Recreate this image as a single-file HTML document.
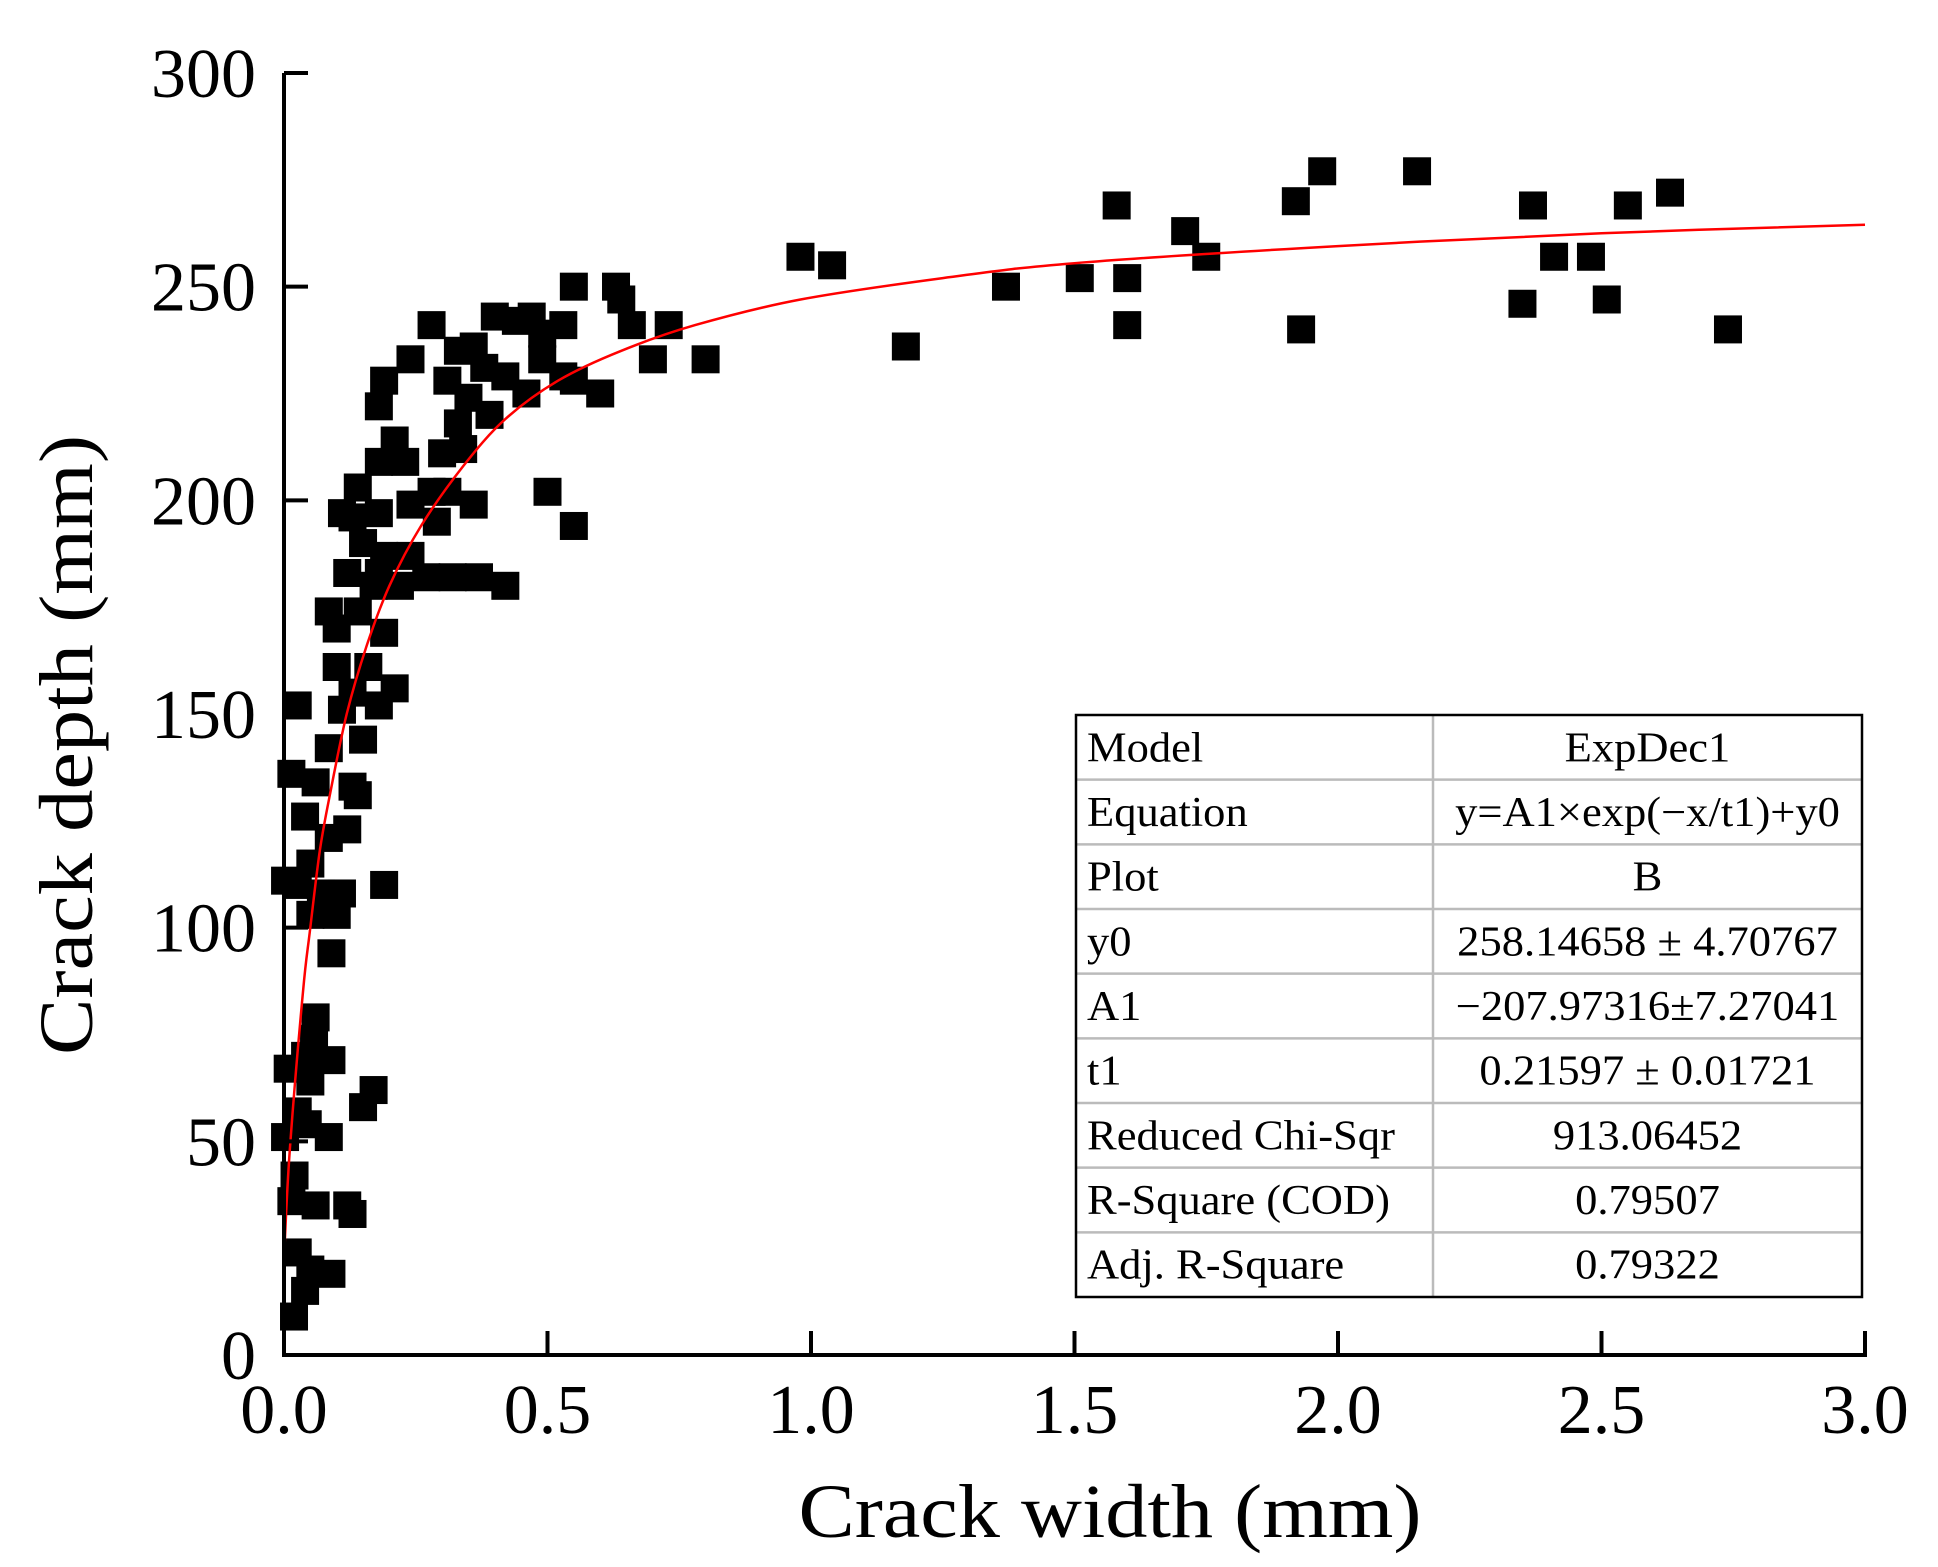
<!DOCTYPE html>
<html><head><meta charset="utf-8"><style>
html,body{margin:0;padding:0;background:#fff;}
svg{display:block;font-family:"Liberation Serif",serif;}
</style></head><body>
<svg id="chart" width="1938" height="1567" viewBox="0 0 1938 1567" xmlns="http://www.w3.org/2000/svg">
<rect width="1938" height="1567" fill="#fff"/>
<g id="marks"></g>
<g id="axes"></g>
<g id="table"></g>
</svg>
<script>
const xTicks=[0,0.5,1.0,1.5,2.0,2.5,3.0];
const xTickLabels=["0.0","0.5","1.0","1.5","2.0","2.5","3.0"];
const yTicks=[0,50,100,150,200,250,300];
const yTickLabels=["0","50","100","150","200","250","300"];
const widthVals=[0.98,1.04,1.18,1.37,1.51,1.58,1.60,1.60,1.71,1.75,1.92,1.93,1.97,2.15,2.35,2.37,2.41,2.48,2.51,2.55,2.63,2.74,
0.55,0.63,0.64,0.66,0.73,0.70,0.80,0.60,0.50,0.55,
0.28,0.24,0.19,0.18,0.31,0.33,0.36,0.40,0.44,0.47,0.53,0.49,0.38,0.42,0.46,0.53,0.49,0.55,0.35,0.33,0.39,0.30,0.34,0.31,0.36,0.28,0.29,0.21,0.18,0.23,0.14,0.11,0.13,0.18,0.24,0.15,0.19,0.24,0.12,0.18,0.22,0.27,0.32,0.37,0.42,0.17,
0.085,0.14,0.10,0.19,0.10,0.16,0.13,0.18,0.21,0.11,0.026,0.15,0.085,0.014,0.06,0.13,0.14,0.04,0.12,0.085,0.002,0.026,0.05,0.07,0.11,0.19,0.05,0.10,0.09,
0.06,0.057,0.007,0.04,0.09,0.05,0.17,0.15,0.026,0.045,0.002,0.085,0.02,0.12,0.06,0.13,0.014,0.026,0.05,0.09,0.04,0.019];
const depthVals=[257,255,236,250,252,269,252,241,263,257,270,240,277,277,246,269,257,257,247,269,272,240,
250,250,247,241,241,233,233,225,202,194,
241,233,228,222,228,235,236,243,242,243,241,239,231,229,225,229,233,228,224,218,220,211,212,202,199,202,195,214,209,209,203,197,196,197,199,190,187,187,183,183,180,182,182,182,180,180,
174,174,170,169,161,161,155,152,156,151,152,144,142,136,134,133,131,126,123,121,111,110,115,108,108,110,103,103,94,
79,74,67,70,69,64,62,58,57,54,51,51,42,35,35,33,36,24,20,19,15,9];
const fitCurveX=[0,0.011,0.036,0.049,0.068,0.087,0.119,0.157,0.2,0.26,0.34,0.42,0.52,0.64,0.78,0.98,1.25,1.5,2.0,2.5,3.0];
const fitCurveY=[22.7,48,85,99,118,131,150,166,180,194,208,219,228,235,241,247,252,255.5,259.5,262.5,264.5];
const tableRows=[["Model","ExpDec1"],["Equation","y=A1×exp(−x/t1)+y0"],["Plot","B"],["y0","258.14658 ± 4.70767"],["A1","−207.97316±7.27041"],["t1","0.21597 ± 0.01721"],["Reduced Chi-Sqr","913.06452"],["R-Square (COD)","0.79507"],["Adj. R-Square","0.79322"]];

const NS="http://www.w3.org/2000/svg";
const X0=284,X1=1865,Y0=1355,Y1=73;
const sx=v=>X0+(v-0)/(3-0)*(X1-X0);
const sy=v=>Y0-(v-0)/(300-0)*(Y0-Y1);
function mk(tag,attrs,parent){const e=document.createElementNS(NS,tag);for(const k in attrs)e.setAttribute(k,attrs[k]);parent.appendChild(e);return e;}
const marks=document.getElementById('marks'),axes=document.getElementById('axes'),table=document.getElementById('table');
const S=28;
widthVals.forEach((w,i)=>{
  const r=mk('rect',{x:sx(w)-S/2,y:sy(depthVals[i])-S/2,width:S,height:S,fill:'#000'},marks);
  
  
});
const P=fitCurveX.map((x,i)=>[sx(x),sy(fitCurveY[i])]);
let d='M'+P[0][0].toFixed(1)+' '+P[0][1].toFixed(1);
for(let i=0;i<P.length-1;i++){
  const p0=P[Math.max(0,i-1)],p1=P[i],p2=P[i+1],p3=P[Math.min(P.length-1,i+2)];
  const c1=[p1[0]+(p2[0]-p0[0])/6,p1[1]+(p2[1]-p0[1])/6];
  const c2=[p2[0]-(p3[0]-p1[0])/6,p2[1]-(p3[1]-p1[1])/6];
  d+='C'+c1[0].toFixed(1)+' '+c1[1].toFixed(1)+' '+c2[0].toFixed(1)+' '+c2[1].toFixed(1)+' '+p2[0].toFixed(1)+' '+p2[1].toFixed(1);
}
const fit=mk('path',{d:d,fill:'none',stroke:'#ff0000','stroke-width':2.5},marks);


const ya=mk('line',{x1:X0,y1:Y1,x2:X0,y2:Y0+2,stroke:'#000','stroke-width':4},axes);


const xa=mk('line',{x1:X0-2,y1:Y0,x2:X1+2,y2:Y0,stroke:'#000','stroke-width':4},axes);


yTicks.forEach((v,i)=>{
  const t=mk('line',{x1:X0,y1:sy(v),x2:X0+24,y2:sy(v),stroke:'#000','stroke-width':4},axes);
  
  
  const l=mk('text',{x:256,y:sy(v)+24,'text-anchor':'end','font-size':70},axes);
  l.textContent=yTickLabels[i];
  
  
});
xTicks.forEach((v,i)=>{
  const t=mk('line',{x1:sx(v),y1:Y0,x2:sx(v),y2:Y0-24,stroke:'#000','stroke-width':4},axes);
  
  
  const l=mk('text',{x:sx(v),y:1433,'text-anchor':'middle','font-size':70},axes);
  l.textContent=xTickLabels[i];
  
  
});
const xt=mk('text',{x:1110,y:1537,'text-anchor':'middle','font-size':76,textLength:623,lengthAdjust:'spacingAndGlyphs'},axes);
xt.textContent='Crack width (mm)';


const yt=mk('text',{x:0,y:0,'text-anchor':'middle','font-size':76,transform:'translate(92,745) rotate(-90)',textLength:620,lengthAdjust:'spacingAndGlyphs'},axes);
yt.textContent='Crack depth (mm)';


const TX0=1076,TX1=1862,TY0=715,TY1=1297,TC=1433,RH=(TY1-TY0)/tableRows.length;
for(let r=1;r<tableRows.length;r++){mk('line',{x1:TX0,y1:TY0+r*RH,x2:TX1,y2:TY0+r*RH,stroke:'#bbb','stroke-width':2.5},table);}
mk('line',{x1:TC,y1:TY0,x2:TC,y2:TY1,stroke:'#bbb','stroke-width':2.5},table);
const border=mk('rect',{x:TX0,y:TY0,width:TX1-TX0,height:TY1-TY0,fill:'none',stroke:'#000','stroke-width':2.5},table);


tableRows.forEach((row,r)=>{
  const by=TY0+r*RH+RH/2+14;
  const a=mk('text',{x:TX0+11,y:by,'font-size':42},table);
  a.textContent=row[0];
  
  
  const b=mk('text',{x:(TC+TX1)/2,y:by,'font-size':42,'text-anchor':'middle'},table);
  b.textContent=row[1];
  
  
  [a,b].forEach(t=>{const L=t.getComputedTextLength();if(L>0){t.setAttribute('textLength',(L*1.06).toFixed(1));t.setAttribute('lengthAdjust','spacingAndGlyphs');}});
});
</script>
</body></html>
